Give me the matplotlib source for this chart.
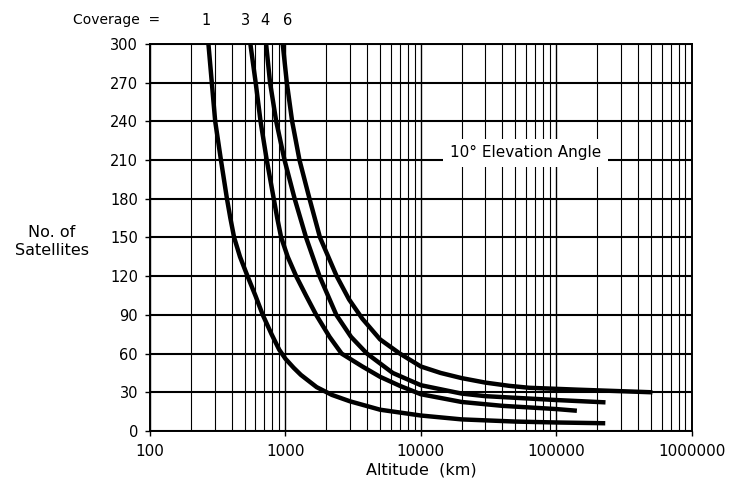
import matplotlib

matplotlib.use("Agg")
import matplotlib.pyplot as plt
from matplotlib.ticker import FixedLocator, LogLocator, NullFormatter

INK = "#000000"

# values (altitude km, number of satellites)
alt_cov1 = [270, 286, 303, 334, 370, 392, 418, 462, 525, 600, 680, 790, 900,
            1000, 1150, 1300, 1700, 2200, 3000, 5000, 10000, 20000, 50000,
            100000, 230000]
sat_cov1 = [300, 270, 240, 210, 180, 165, 150, 135, 120, 105, 90, 75, 63,
            56, 49, 43.5, 34, 28, 23, 16.5, 12, 9, 7.3,
            6.6, 6]

alt_cov3 = [551, 603, 655, 728, 820, 870, 930, 1040, 1200, 1419, 1687, 2117,
            2600, 3700, 5000, 7000, 10000, 20000, 40000, 100000, 142000]
sat_cov3 = [300, 270, 240, 210, 180, 165, 150, 135, 120, 105, 90, 73,
            60, 50, 42, 35, 28.5, 22.5, 19.5, 17, 15.7]

alt_cov4 = [720, 770, 855, 985, 1170, 1420, 1786, 2376, 3050, 4000, 6200,
            10000, 20000, 30000, 100000, 231000]
sat_cov4 = [300, 270, 240, 210, 180, 150, 120, 90, 73, 60, 45,
            35.5, 29, 27, 24, 22.2]

alt_cov6 = [955, 1024, 1121, 1270, 1506, 1800, 2390, 2950, 3700, 5000, 7000,
            10000, 14000, 20000, 30000, 45000, 63000, 147000, 513000]
sat_cov6 = [300, 270, 240, 210, 180, 150, 120, 102, 87, 71, 60,
            50, 45, 41, 37.5, 35, 33.5, 32, 30]

coverage_labels = ["1", "3", "4", "6"]
y_ticks = list(range(0, 301, 30))
x_ticks = [100, 1000, 10000, 100000, 1000000]
x_ticklabels = ["100", "1000", "10000", "100000", "1000000"]

plt.rcParams["font.family"] = ["DejaVu Sans"]

fig = plt.figure(figsize=(7.3, 4.87), dpi=100)
ax = fig.add_axes([0.2055, 0.115, 0.742, 0.7947])

curves = [(alt_cov1, sat_cov1), (alt_cov3, sat_cov3),
          (alt_cov4, sat_cov4), (alt_cov6, sat_cov6)]
for alt, sat in curves:
    ax.plot(alt, sat, color=INK, lw=3.2, solid_capstyle="butt",
            solid_joinstyle="round", zorder=3)

ax.set_xscale("log")
ax.set_xlim(100, 1000000)
ax.set_ylim(0, 300)

ax.xaxis.set_major_locator(FixedLocator(x_ticks))
ax.set_xticklabels(x_ticklabels)
ax.xaxis.set_minor_locator(LogLocator(base=10, subs=range(2, 10)))
ax.xaxis.set_minor_formatter(NullFormatter())
ax.set_yticks(y_ticks)

ax.grid(which="major", axis="x", color=INK, lw=1.0)
ax.grid(which="minor", axis="x", color=INK, lw=0.8)
ax.grid(which="major", axis="y", color=INK, lw=1.5)
ax.set_axisbelow(True)

for s in ax.spines.values():
    s.set_color(INK)
    s.set_linewidth(1.4)

ax.tick_params(axis="y", which="major", direction="out", length=3.6,
               width=1.0, colors=INK, labelsize=10.5, pad=5)
ax.tick_params(axis="x", which="major", direction="out", length=3.6,
               width=1.0, colors=INK, labelsize=11, pad=6)
ax.tick_params(axis="x", which="minor", length=0)

ax.set_xlabel("Altitude  (km)", fontsize=11.5, labelpad=2)
fig.text(0.071, 0.505, "No. of\nSatellites", ha="center", va="center",
         fontsize=11.5, linespacing=1.25)

# coverage labels above the top of each curve
fig.text(0.2195, 0.958, "Coverage  =", ha="right", va="center", fontsize=10)
label_x = [206, 245.5, 265, 287.5]
for lab, px in zip(coverage_labels, label_x):
    fig.text(px / 730, 0.958, lab, ha="center", va="center", fontsize=10.5)

ax.text(59000, 215.5, "10° Elevation Angle", ha="center", va="center",
        fontsize=11, zorder=4,
        bbox=dict(facecolor="white", edgecolor="none", pad=5))

fig.savefig("out.png", dpi=100, facecolor="white")
